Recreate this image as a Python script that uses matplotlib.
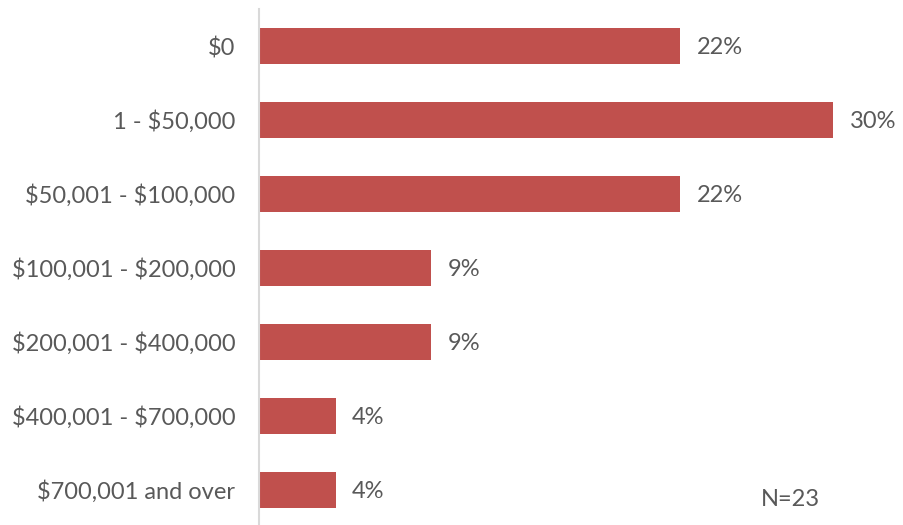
import matplotlib.pyplot as plt

categories = ["$0", "1 - $50,000", "$50,001 - $100,000", "$100,001 - $200,000",
              "$200,001 - $400,000", "$400,001 - $700,000", "$700,001 and over"]
percents = [22, 30, 22, 9, 9, 4, 4]
n_label = "N=23"

bar_color = "#C0504D"
text_color = "#595959"

plt.rcParams['font.family'] = ['Lato', 'DejaVu Sans']
plt.rcParams['text.parse_math'] = False

fig = plt.figure(figsize=(9.04, 5.25), dpi=100)
ax = fig.add_axes([259 / 904, -2 / 525, 620 / 904, 518 / 525])

y = list(range(len(categories)))
ax.barh(y, percents, height=0.49, color=bar_color)
ax.set_ylim(len(categories) - 0.5, -0.5)
ax.set_xlim(0, 32.4)

for yi, p in zip(y, percents):
    ax.annotate(f"{p}%", (p, yi), xytext=(12, -1), textcoords="offset points",
                va="center", ha="left", fontsize=17, color=text_color)

ax.set_yticks(y)
ax.set_yticklabels(categories, fontsize=17, color=text_color)
ax.tick_params(axis="y", length=0, pad=17)
ax.set_xticks([])

for side in ["top", "right", "bottom"]:
    ax.spines[side].set_visible(False)
ax.spines["left"].set_color("#d9d9d9")
ax.spines["left"].set_linewidth(1.5)

fig.text(790 / 904, 1 - 499 / 525, n_label, ha="center", va="center",
         fontsize=17, color=text_color)

fig.savefig("out.png", dpi=100)
